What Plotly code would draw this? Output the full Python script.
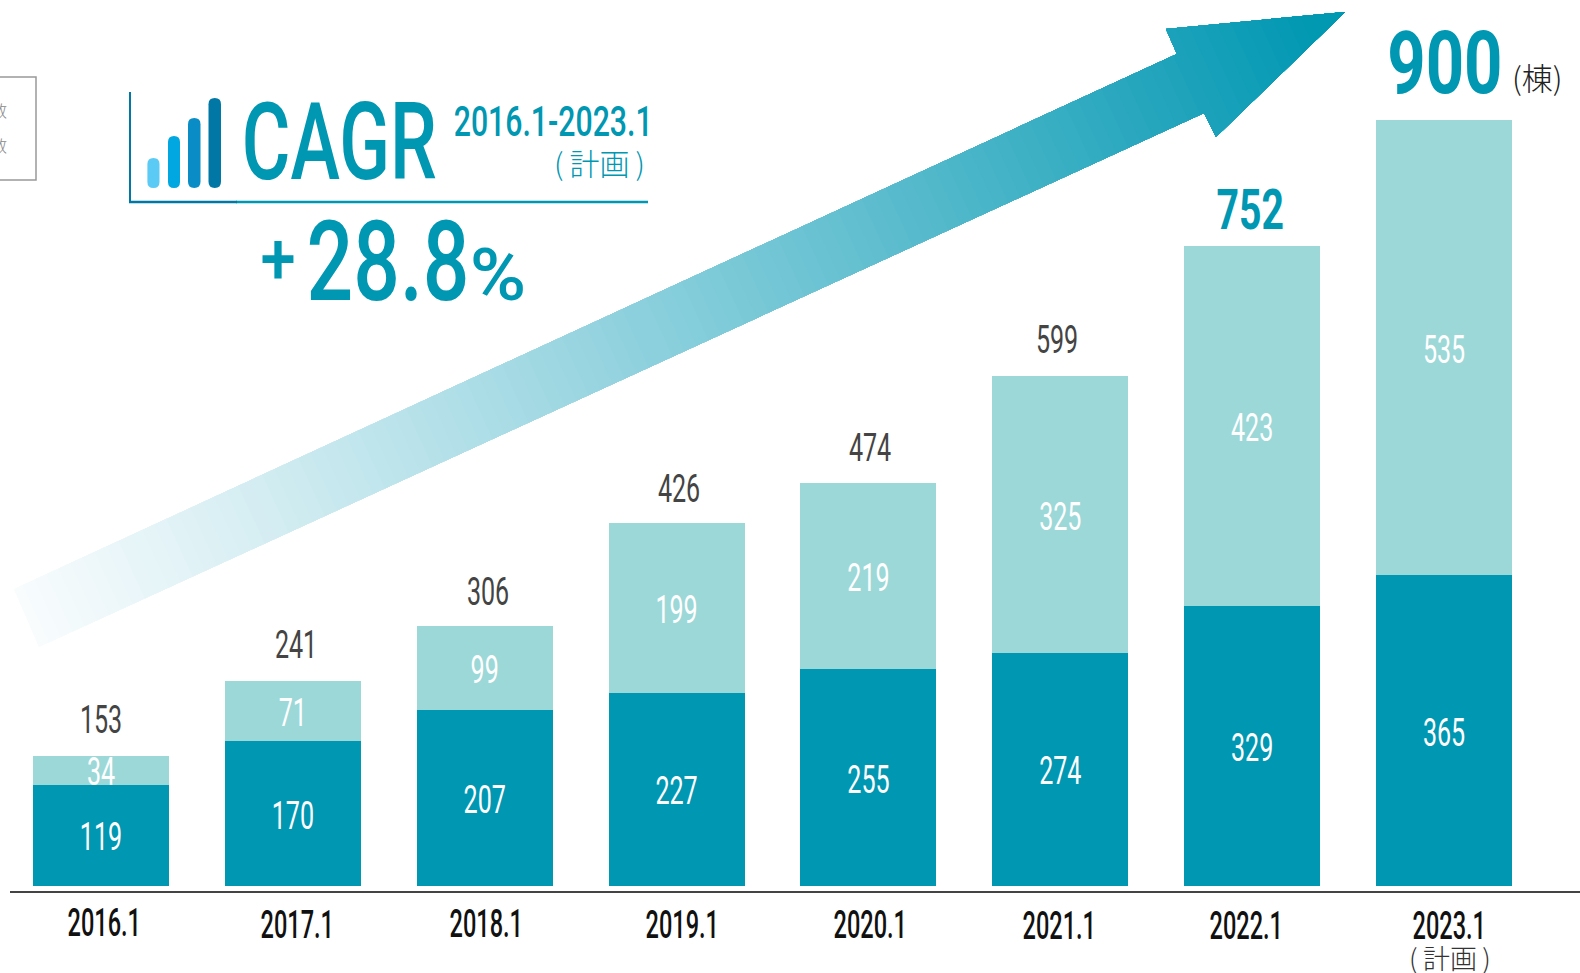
import json
import plotly.graph_objects as go

W, H = 1580, 973
categories = ["2016.1", "2017.1", "2018.1", "2019.1", "2020.1", "2021.1", "2022.1", "2023.1"]
lower_values = [119, 170, 207, 227, 255, 274, 329, 365]
upper_values = [34, 71, 99, 199, 219, 325, 423, 535]
totals = [153, 241, 306, 426, 474, 599, 752, 900]

TEAL = "#0097B2"
LIGHT = "#9CD8D7"
NARROW = "Roboto"
CJK = "Noto Sans CJK JP"
PLAN = "(\u2009計画\u2009)"

# axis geometry
X0_PX, STEP_PX, BASE_PX, UNIT_PX = 101.0, 191.86, 886.0, 0.851
xr = [(0 - X0_PX) / STEP_PX, (W - X0_PX) / STEP_PX]
yr = [-(H - BASE_PX) / UNIT_PX, BASE_PX / UNIT_PX]
px = lambda x: x / W
py = lambda y: 1 - y / H

fig = go.Figure()
xs = list(range(len(categories)))
for vals, col in ((lower_values, TEAL), (upper_values, LIGHT)):
    fig.add_bar(x=xs, y=vals, marker=dict(color=col, line_width=0), width=136 / STEP_PX,
                text=vals, textposition="inside", insidetextanchor="middle",
                textangle=0, constraintext="none",
                textfont=dict(color="white", size=38, family=NARROW, weight=400))

shapes = []

# gradient arrow, painted as successive clipped polygons
arrow = [(14, 589), (1177, 54), (1166, 29), (1345, 12), (1216, 137), (1204, 113), (39, 647)]
A = (26, 618)
B = (1345, 12)
dx, dy = B[0] - A[0], B[1] - A[1]
L2 = dx * dx + dy * dy


def clip(poly, t0):
    f = lambda p: ((p[0] - A[0]) * dx + (p[1] - A[1]) * dy) / L2 - t0
    out = []
    for i, p in enumerate(poly):
        q = poly[(i + 1) % len(poly)]
        fp, fq = f(p), f(q)
        if fp >= 0:
            out.append(p)
        if fp * fq < 0:
            s = fp / (fp - fq)
            out.append((p[0] + s * (q[0] - p[0]), p[1] + s * (q[1] - p[1])))
    return out


N = 110
c0, c1 = (251, 253, 254), (0, 151, 178)
for i in range(N):
    t = i / N - 0.02 if i else -0.1
    poly = clip(arrow, t)
    if len(poly) < 3:
        continue
    k = min(1, (i + 0.5) / N) ** 1.15
    col = "rgb(%d,%d,%d)" % tuple(round(a + (b - a) * k) for a, b in zip(c0, c1))
    path = "M" + " L".join(f"{px(x):.5f},{py(y):.5f}" for x, y in poly) + " Z"
    shapes.append(dict(type="path", path=path, xref="paper", yref="paper", fillcolor=col,
                       line_width=0, layer="below"))

# axis line
shapes.append(dict(type="line", xref="paper", yref="paper", x0=px(10), x1=1, y0=py(892), y1=py(892),
                   line=dict(color="#444444", width=2)))
# legend box fragment
shapes.append(dict(type="rect", xref="paper", yref="paper", x0=px(-5), x1=px(36), y0=py(77), y1=py(180),
                   line=dict(color="#999999", width=1.5), fillcolor="white"))
# CAGR frame
shapes.append(dict(type="line", xref="paper", yref="paper", x0=px(130), x1=px(130), y0=py(92), y1=py(203),
                   line=dict(color="#0077A5", width=2)))
shapes.append(dict(type="line", xref="paper", yref="paper", x0=px(236), x1=px(648), y0=py(202), y1=py(202),
                   line=dict(color=TEAL, width=2.5)))
shapes.append(dict(type="line", xref="paper", yref="paper", x0=px(129), x1=px(237), y0=py(202), y1=py(202),
                   line=dict(color="#0077A5", width=2.5)))


# logo pills
def pill(x0, x1, top, bottom, color):
    r = (x1 - x0) / 2
    cx = (x0 + x1) / 2
    P = lambda a, b: f"{px(a):.5f},{py(b):.5f}"
    path = (f"M{P(x0, top + r)} Q{P(x0, top)} {P(cx, top)} Q{P(x1, top)} {P(x1, top + r)} "
            f"L{P(x1, bottom - r)} Q{P(x1, bottom)} {P(cx, bottom)} Q{P(x0, bottom)} {P(x0, bottom - r)} Z")
    shapes.append(dict(type="path", path=path, xref="paper", yref="paper", fillcolor=color, line_width=0))


pill(147.4, 159.5, 158, 188, "#5BCBF5")
pill(168, 180, 136, 188, "#00A7E0")
pill(188, 200.5, 118, 188, "#0A8DC6")
pill(208.5, 221, 98, 188, "#0077A5")

ann = []
squeeze = {}


def text(x, y, s, size, color, family=NARROW, anchor="center", weight=500, sx=None):
    f = dict(size=size, color=color, family=family, weight=weight)
    if sx:
        squeeze[s] = sx
    ann.append(dict(x=px(x), y=py(y), xref="paper", yref="paper", text=s, showarrow=False,
                    xanchor=anchor, yanchor="middle", font=f, borderpad=0, borderwidth=0))


# totals
total_x = [101, 296, 488, 679, 870, 1057]
total_y = [720, 645, 592, 489, 448, 340]
for i, (x, y) in enumerate(zip(total_x, total_y)):
    text(x, y, str(totals[i]), 38, "#444444", weight=400, sx=0.66)
text(1250, 210, str(totals[6]), 56, TEAL, weight=700, sx=0.70)
text(1445, 63, str(totals[7]), 87, TEAL, weight=700, sx=0.77)
text(1537, 76, "(棟)", 31, "#222222", family=CJK, weight=300)

# category labels
cat_x = [104, 297, 487, 682, 870, 1059, 1246, 1449]
cat_y = [923, 925, 924, 925, 925, 926, 926, 926]
for c, x, y in zip(categories, cat_x, cat_y):
    text(x, y, c, 38, "#111111", sx=0.62)
text(1450, 957, PLAN, 27, "#333333", family=CJK, weight=300)

# CAGR block
text(339, 142, "CAGR", 108, TEAL, sx=0.69)
text(553, 122, "2016.1-2023.1", 42, TEAL, sx=0.72)
text(603, 162, PLAN + " ", 30, TEAL, family=CJK, weight=300)
text(278, 260, "+", 72, TEAL, sx=0.88)
text(387.5, 262, "28.8", 111, TEAL, sx=0.74)
text(497.5, 275, "%", 73, TEAL, sx=1.05)

# legend fragment
text(7, 110.5, "数", 16, "#888888", family=CJK, anchor="right", weight=300)
text(7, 145, "数", 16, "#888888", family=CJK, anchor="right", weight=300)

fig.update_layout(
    width=W, height=H, margin=dict(l=0, r=0, t=0, b=0, pad=0), autosize=False,
    barmode="stack", showlegend=False, plot_bgcolor="white", paper_bgcolor="white",
    xaxis=dict(range=xr, visible=False, fixedrange=True),
    yaxis=dict(range=yr, visible=False, fixedrange=True),
    shapes=shapes, annotations=ann,
)

# Page margin off, and the installed Roboto drawn condensed (no condensed face is installed).
post = """
document.documentElement.style.margin='0';document.body.style.margin='0';document.body.style.overflow='hidden';
var SQ=%s, gd=document.getElementById('{plot_id}');
function sq(){
  gd.querySelectorAll('text').forEach(function(t){
    var s=t.textContent, k=SQ[s], dy=0;
    if(k===undefined){ if(t.closest('.bartext')||t.classList.contains('bartext')){k=0.66;dy=2;} else return; }
    var tr=t.getAttribute('transform')||'';
    if(tr.indexOf('scale(')>=0) return;
    var b=t.getBBox(), c=b.x+b.width/2;
    t.setAttribute('transform',tr+' translate('+c+' '+dy+') scale('+k+' 1) translate('+(-c)+' 0)');
  });
}
sq(); if(gd.on) gd.on('plotly_afterplot',sq); window.addEventListener('load',sq); setTimeout(sq,200);
""" % json.dumps(squeeze, ensure_ascii=False)
fig.write_html("out.html", config={"displayModeBar": False}, post_script=post)
